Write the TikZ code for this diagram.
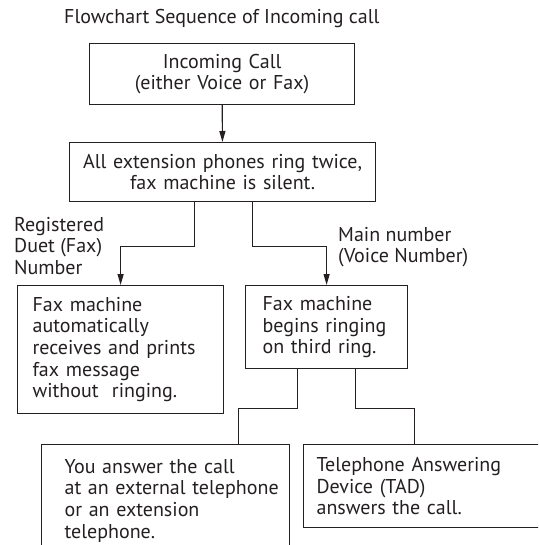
\documentclass[tikz,border=0pt]{standalone}
\usepackage{fontspec}
\setmainfont{PT Sans}
\usetikzlibrary{arrows.meta}
\definecolor{ink}{rgb}{0.14,0.12,0.13}
\begin{document}
\begin{tikzpicture}[x=1pt, y=-1pt, font=\fontsize{20}{21.7}\selectfont, color=ink,
  box/.style={draw, line width=1.2pt, inner ysep=0pt, anchor=north west},
  flow/.style={line width=1.2pt, -{Triangle[length=11pt, width=6pt]}},
  link/.style={line width=1.2pt},
  tag/.style={anchor=west, inner sep=0pt, align=left}]
  \useasboundingbox (0,0) rectangle (538,545);
  \clip (0,0) rectangle (538,545);
  \node[tag] (title) at (64,19) {Flowchart Sequence of Incoming call};
  \node[box, minimum width=265, minimum height=61, inner xsep=5, text width=255, align=center] (call) at (89,43) {Incoming Call\\(either Voice or Fax)};
  \node[box, minimum width=306, minimum height=59, inner xsep=5, text width=296, align=center] (ring) at (69,142) {All extension phones ring twice,\\fax machine is silent.};
  \node[box, minimum width=206, minimum height=128, inner xsep=15, text width=176, align=left] (fax) at (17,285) {Fax machine\\automatically\\receives and prints\\fax message\\without~ ringing.};
  \node[box, minimum width=162, minimum height=83, inner xsep=17, text width=128, align=left] (third) at (245,285) {Fax machine\\\mbox{begins ringing}\\on third ring.};
  \node[box, minimum width=248, minimum height=112, inner xsep=23, text width=202, align=left] (you) at (41,444) {You answer the call\\\mbox{at an external telephone}\\or an extension\\telephone.};
  \node[box, minimum width=242, minimum height=83, inner xsep=13, text width=216, align=left] (tad) at (303,444) {Telephone Answering\\Device (TAD)\\answers the call.};
  \node[tag] (duet) at (14,246) {Registered\\Duet (Fax)\\Number};
  \node[tag] (main) at (338,247) {Main number\\(Voice Number)};
  \draw[flow] (call) -- (ring);
  \draw[flow] ([xshift=-28]ring.south) -- ++(0,44) -| (fax.north);
  \draw[flow] ([xshift=30]ring.south) -- ++(0,44) -| (third.north);
  \draw[link] ([xshift=-29]third.south) -- ++(0,39) -| ([xshift=73]you.north);
  \draw[link] ([xshift=29]third.south) -- ++(0,39) -| ([xshift=-10]tad.north);
\end{tikzpicture}
\end{document}
